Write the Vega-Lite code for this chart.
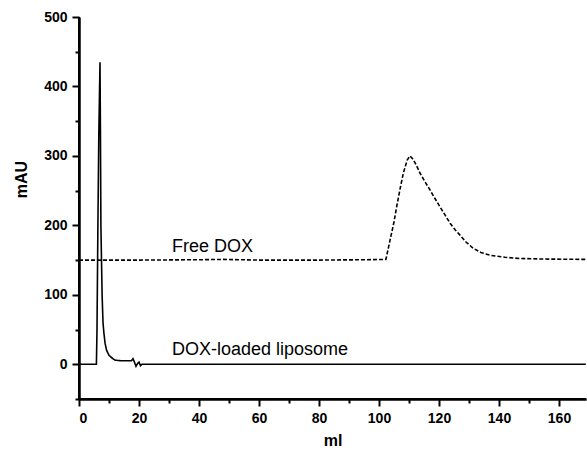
{
  "$schema": "https://vega.github.io/schema/vega-lite/v6.json",
  "autosize": "none",
  "width": 507,
  "height": 382,
  "padding": {"left": 79, "top": 17, "right": 1, "bottom": 51},
  "background": "white",
  "config": {
    "view": {"stroke": null},
    "font": "Liberation Sans",
    "axis": {
      "domain": true,
      "domainColor": "black",
      "domainWidth": 2,
      "tickColor": "black",
      "tickWidth": 2,
      "grid": false,
      "zindex": 1,
      "labelColor": "black",
      "titleColor": "black",
      "labelFont": "Liberation Sans",
      "titleFont": "Liberation Sans",
      "labelFontWeight": "bold",
      "titleFontWeight": "bold",
      "labelFontSize": 14,
      "titleFontSize": 16
    }
  },
  "datasets": {
    "curves": [
      {"series": "liposome", "ml": 0, "mAU": 0},
      {"series": "liposome", "ml": 5.8, "mAU": 0},
      {"series": "liposome", "ml": 6.0, "mAU": 50},
      {"series": "liposome", "ml": 6.3, "mAU": 200},
      {"series": "liposome", "ml": 6.6, "mAU": 330},
      {"series": "liposome", "ml": 7.0, "mAU": 435},
      {"series": "liposome", "ml": 7.15, "mAU": 330},
      {"series": "liposome", "ml": 7.3, "mAU": 200},
      {"series": "liposome", "ml": 7.7, "mAU": 100},
      {"series": "liposome", "ml": 8.0, "mAU": 60},
      {"series": "liposome", "ml": 8.3, "mAU": 45},
      {"series": "liposome", "ml": 8.7, "mAU": 30},
      {"series": "liposome", "ml": 9.2, "mAU": 20},
      {"series": "liposome", "ml": 10, "mAU": 13},
      {"series": "liposome", "ml": 11, "mAU": 9},
      {"series": "liposome", "ml": 12, "mAU": 6},
      {"series": "liposome", "ml": 14, "mAU": 5},
      {"series": "liposome", "ml": 16, "mAU": 5},
      {"series": "liposome", "ml": 17.5, "mAU": 5},
      {"series": "liposome", "ml": 18, "mAU": 8},
      {"series": "liposome", "ml": 18.5, "mAU": 3},
      {"series": "liposome", "ml": 19, "mAU": -3},
      {"series": "liposome", "ml": 19.5, "mAU": 1},
      {"series": "liposome", "ml": 20, "mAU": 3},
      {"series": "liposome", "ml": 20.5, "mAU": -2},
      {"series": "liposome", "ml": 21, "mAU": 0},
      {"series": "liposome", "ml": 169, "mAU": 0},
      {"series": "free", "ml": 0, "mAU": 150},
      {"series": "free", "ml": 20, "mAU": 150},
      {"series": "free", "ml": 40, "mAU": 150.5},
      {"series": "free", "ml": 48, "mAU": 151},
      {"series": "free", "ml": 60, "mAU": 150},
      {"series": "free", "ml": 80, "mAU": 150},
      {"series": "free", "ml": 95, "mAU": 150.5},
      {"series": "free", "ml": 102.3, "mAU": 151},
      {"series": "free", "ml": 103.7, "mAU": 179},
      {"series": "free", "ml": 105, "mAU": 205},
      {"series": "free", "ml": 105.9, "mAU": 227},
      {"series": "free", "ml": 107, "mAU": 252},
      {"series": "free", "ml": 108.1, "mAU": 275},
      {"series": "free", "ml": 109.4, "mAU": 294},
      {"series": "free", "ml": 110.3, "mAU": 300},
      {"series": "free", "ml": 111.4, "mAU": 295},
      {"series": "free", "ml": 112.5, "mAU": 286},
      {"series": "free", "ml": 113.7, "mAU": 275},
      {"series": "free", "ml": 115.3, "mAU": 263},
      {"series": "free", "ml": 117, "mAU": 251},
      {"series": "free", "ml": 118.6, "mAU": 239},
      {"series": "free", "ml": 120.3, "mAU": 227},
      {"series": "free", "ml": 122, "mAU": 215},
      {"series": "free", "ml": 123.7, "mAU": 203},
      {"series": "free", "ml": 125.3, "mAU": 194},
      {"series": "free", "ml": 127, "mAU": 186},
      {"series": "free", "ml": 129, "mAU": 176},
      {"series": "free", "ml": 131.4, "mAU": 167},
      {"series": "free", "ml": 134, "mAU": 161},
      {"series": "free", "ml": 137, "mAU": 157},
      {"series": "free", "ml": 142, "mAU": 154},
      {"series": "free", "ml": 147, "mAU": 152.3},
      {"series": "free", "ml": 155, "mAU": 151.5},
      {"series": "free", "ml": 169, "mAU": 151}
    ],
    "labels": [
      {"ml": 31, "mAU": 162, "label": "Free DOX"},
      {"ml": 31, "mAU": 13, "label": "DOX-loaded liposome"}
    ],
    "frame": [
      {"ml": 0, "mAU": 500, "o": 1},
      {"ml": 0, "mAU": -50, "o": 2},
      {"ml": 169, "mAU": -50, "o": 3}
    ]
  },
  "layer": [
    {
      "data": {"name": "labels"},
      "mark": {"type": "text", "align": "left", "baseline": "alphabetic", "fontSize": 18, "font": "Liberation Sans", "color": "black"},
      "encoding": {
        "x": {
          "field": "ml", "type": "quantitative",
          "scale": {"domain": [0, 169], "nice": false, "zero": false},
          "axis": {
            "orient": "bottom", "title": null, "labels": false,
            "values": [10, 30, 50, 70, 90, 110, 130, 150], "tickSize": 4
          }
        },
        "y": {
          "field": "mAU", "type": "quantitative",
          "scale": {"domain": [-50, 500], "nice": false, "zero": false},
          "axis": {
            "orient": "left", "title": null, "labels": false,
            "values": [-50, 50, 150, 250, 350, 450], "tickSize": 4
          }
        },
        "text": {"field": "label"}
      }
    },
    {
      "data": {"name": "curves"},
      "mark": {"type": "line", "color": "black", "strokeWidth": 1.6, "clip": true},
      "encoding": {
        "x": {
          "field": "ml", "type": "quantitative",
          "scale": {"domain": [0, 169], "nice": false, "zero": false},
          "axis": {
            "orient": "bottom", "title": "ml",
            "values": [0, 20, 40, 60, 80, 100, 120, 140, 160],
            "tickSize": 7, "labelPadding": 5, "titlePadding": 7
          }
        },
        "y": {
          "field": "mAU", "type": "quantitative",
          "scale": {"domain": [-50, 500], "nice": false, "zero": false},
          "axis": {
            "orient": "left", "title": "mAU",
            "values": [0, 100, 200, 300, 400, 500],
            "tickSize": 7, "labelPadding": 5, "titlePadding": 14, "titleY": 162
          }
        },
        "detail": {"field": "series"},
        "strokeDash": {
          "field": "series", "type": "nominal",
          "scale": {"domain": ["liposome", "free"], "range": [[1, 0], [4, 2]]},
          "legend": null
        }
      }
    },
    {
      "data": {"name": "frame"},
      "mark": {"type": "line", "color": "black", "strokeWidth": 2, "clip": false},
      "encoding": {
        "x": {"field": "ml", "type": "quantitative", "axis": null},
        "y": {"field": "mAU", "type": "quantitative", "axis": null},
        "order": {"field": "o", "type": "quantitative"}
      }
    }
  ],
  "resolve": {"axis": {"x": "independent", "y": "independent"}}
}
